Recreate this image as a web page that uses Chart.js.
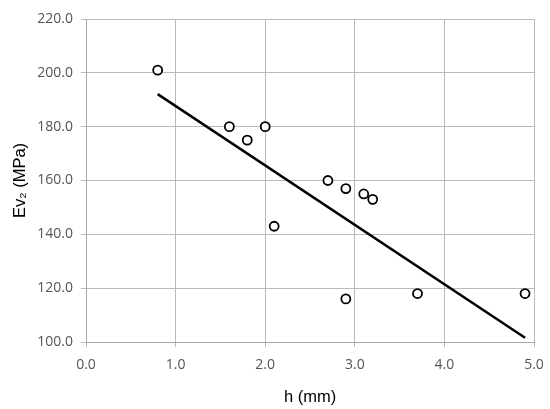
<!DOCTYPE html>
<html lang="en">
<head>
    <meta charset="UTF-8">
    <title>Ev2 vs h</title>
    <script src="https://cdn.jsdelivr.net/npm/chart.js"></script>
    <style>
        html, body { margin: 0; padding: 0; background: #fff; }
        #wrap { width: 550px; height: 409px; }
    </style>
</head>
<body>
    <div id="wrap"><canvas id="chart"></canvas></div>
    <script>
        // measured points
        let hValues = [0.8, 1.6, 1.8, 2.0, 2.1, 2.7, 2.9, 2.9, 3.1, 3.2, 3.7, 4.9];
        let ev2Values = [201, 180, 175, 180, 143, 160, 157, 116, 155, 153, 118, 118];
        // linear trend line end points
        let trendH = [0.8, 4.9];
        let trendEv2 = [192.1, 101.6];
        let xTicks = [0, 1, 2, 3, 4, 5];
        let yTicks = [100, 120, 140, 160, 180, 200, 220];

        let points = hValues.map((h, i) => ({ x: h, y: ev2Values[i] }));
        let trend = trendH.map((h, i) => ({ x: h, y: trendEv2[i] }));

        let tickFont = { family: "Open Sans", size: 14 };
        let titleFont = { family: "Liberation Sans", size: 16.5 };

        new Chart(document.getElementById("chart"), {
            type: "scatter",
            data: {
                datasets: [{
                    label: "Ev2",
                    data: points,
                    pointRadius: 4.5,
                    pointBorderWidth: 1.8,
                    pointBorderColor: "#000",
                    pointBackgroundColor: "#fff",
                    order: 1
                }, {
                    label: "Trend",
                    type: "line",
                    data: trend,
                    borderColor: "#000",
                    borderWidth: 2.5,
                    pointRadius: 0,
                    fill: false,
                    order: 2
                }]
            },
            options: {
                responsive: true,
                maintainAspectRatio: false,
                animation: false,
                layout: { padding: { top: 19, right: 16, left: 0, bottom: 0 } },
                plugins: { legend: { display: false }, tooltip: { enabled: false } },
                scales: {
                    x: {
                        type: "linear",
                        min: 0, max: 5,
                        afterBuildTicks: axis => { axis.ticks = xTicks.map(v => ({ value: v })); },
                        ticks: { callback: v => v.toFixed(1), color: "#555", font: tickFont, padding: 10, maxRotation: 0 },
                        grid: { color: "#bababa", lineWidth: 1, tickLength: 5, tickColor: "#bababa" },
                        border: { color: "#a6a6a6", width: 1 },
                        title: { display: true, text: "h (mm)", color: "#000", font: titleFont, padding: { top: 0, bottom: 2 } },
                        afterFit: axis => { axis.height = 67; axis.paddingRight = 0; }
                    },
                    y: {
                        type: "linear",
                        min: 100, max: 220,
                        afterBuildTicks: axis => { axis.ticks = yTicks.map(v => ({ value: v })); },
                        ticks: { callback: v => v.toFixed(1), color: "#555", font: tickFont, padding: 8 },
                        grid: { color: "#bababa", lineWidth: 1, tickLength: 5, tickColor: "#bababa" },
                        border: { color: "#a6a6a6", width: 1 },
                        title: { display: true, text: "Ev₂ (MPa)", color: "#000", font: titleFont, padding: { top: 11, bottom: 2 } },
                        afterFit: axis => { axis.width = 86; }
                    }
                }
            }
        });
    </script>
</body>
</html>
